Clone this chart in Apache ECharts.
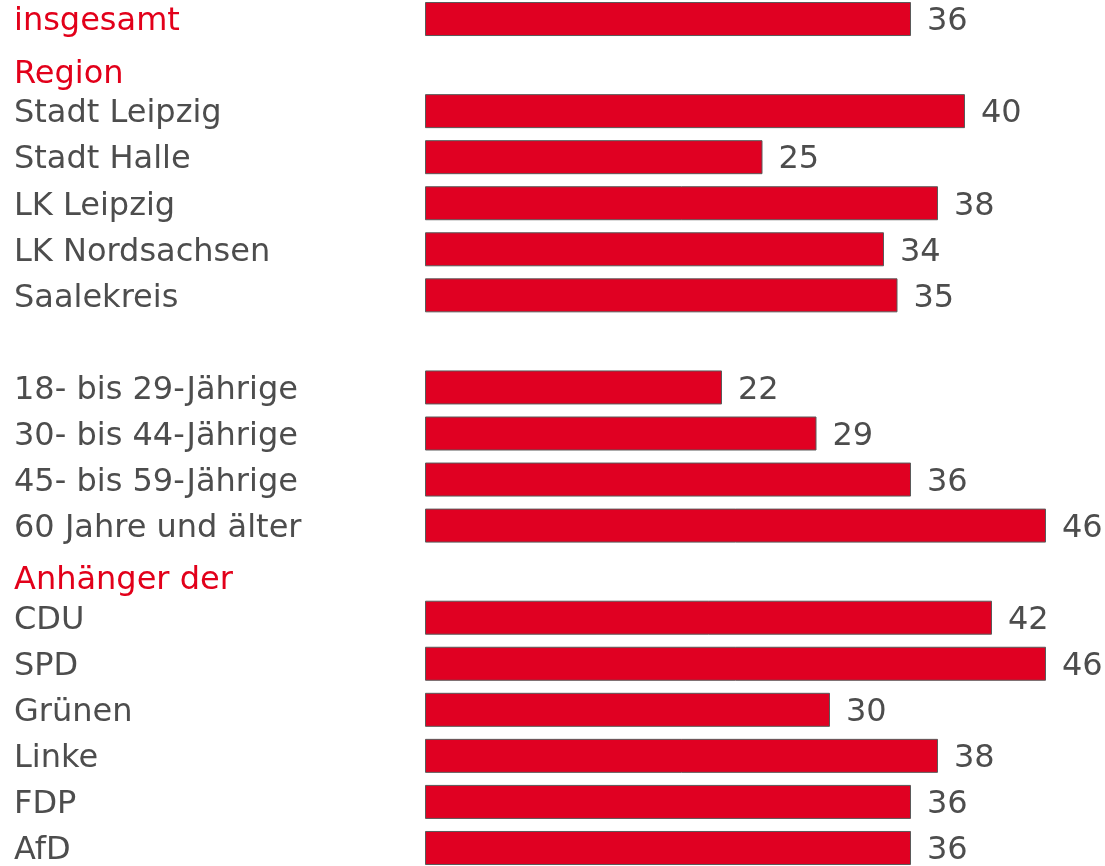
<!DOCTYPE html>
<html>
<head>
<meta charset="utf-8">
<script src="https://cdn.jsdelivr.net/npm/echarts@6/dist/echarts.min.js"></script>
<style>
	html, body { margin: 0; padding: 0; background: #fff; overflow: hidden; }
	/* etwas größer als das Fenster, damit die Zeilen genau passen */
	#chart { position: absolute; left: 0; top: -4px; width: 1105px; height: 875px; }
</style>
</head>
<body>
<div id="chart"></div>
<script>
// Kategorien (von oben nach unten)
var categories = ['insgesamt', 'Region', 'Stadt Leipzig', 'Stadt Halle', 'LK Leipzig', 'LK Nordsachsen', 'Saalekreis', ' ',
	'18- bis 29-Jährige', '30- bis 44-Jährige', '45- bis 59-Jährige', '60 Jahre und älter',
	'Anhänger der', 'CDU', 'SPD', 'Grünen', 'Linke', 'FDP', 'AfD'];

// Werte in Prozent, null = Überschrift / Leerzeile
var values = [36, null, 40, 25, 38, 34, 35, null,
	22, 29, 36, 46,
	null, 42, 46, 30, 38, 36, 36];

// rote Überschriften
var headers = ['Region', 'Anhänger der'];
var redLabels = ['insgesamt'];

var myChart = echarts.init(document.getElementById('chart'));

var option = {
	animation: false,
	grid: {
		left: 425,
		right: 5,
		top: 0,
		bottom: 0,
		containLabel: false
	},
	xAxis: {
		type: 'value',
		min: 0,
		max: 50,
		show: false
	},
	yAxis: {
		type: 'category',
		inverse: true,
		data: categories,
		axisLine: { show: false },
		axisTick: { show: false },
		splitLine: { show: false },
		axisLabel: {
			interval: 0,
			align: 'left',
			margin: 411,
			fontFamily: 'DejaVu Sans',
			fontSize: 32,
			color: '#4d4d4d',
			formatter: function(value) {
				if (headers.indexOf(value) >= 0) {
					return '{h|' + value + '}';
				}
				if (redLabels.indexOf(value) >= 0) {
					return '{r|' + value + '}';
				}
				return '{n|' + value + '}';
			},
			rich: {
				n: {
					color: '#4d4d4d',
					fontFamily: 'DejaVu Sans',
					fontSize: 32,
					padding: [6, 0, 0, 0]
				},
				h: {
					color: '#e2001a',
					fontFamily: 'DejaVu Sans',
					fontSize: 32,
					padding: [19, 0, 0, 0]
				},
				r: {
					color: '#e2001a',
					fontFamily: 'DejaVu Sans',
					fontSize: 32,
					padding: [6, 0, 0, 0]
				}
			}
		}
	},
	series: [{
		type: 'bar',
		data: values,
		barWidth: 34,
		itemStyle: {
			color: '#e00022',
			borderColor: '#5a5a5a',
			borderWidth: 1
		},
		label: {
			show: true,
			position: 'right',
			distance: 16,
			offset: [0, 3],
			fontFamily: 'DejaVu Sans',
			fontSize: 32,
			color: '#4d4d4d'
		}
	}]
};

myChart.setOption(option);
</script>
</body>
</html>
